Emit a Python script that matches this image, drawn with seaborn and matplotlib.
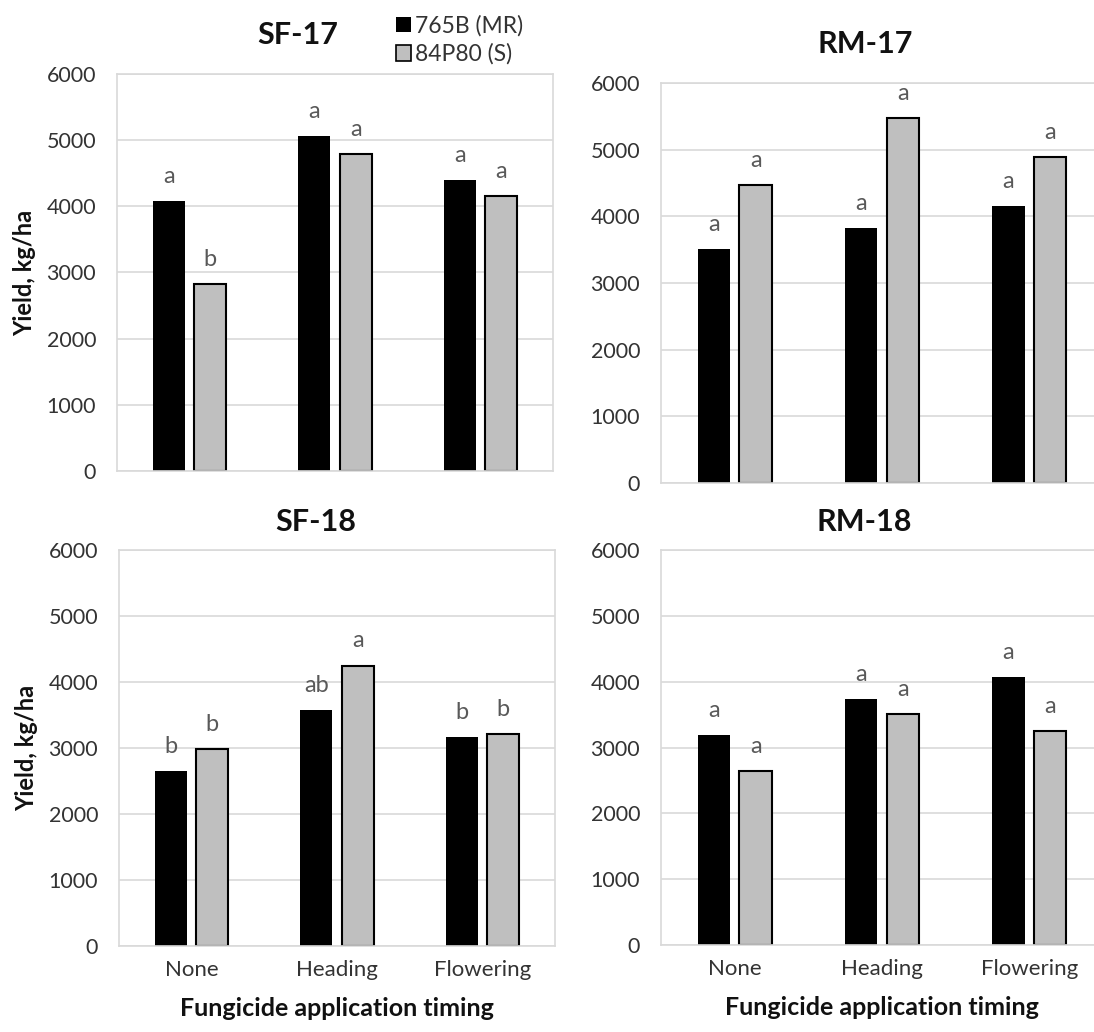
import matplotlib
matplotlib.use("Agg")
import matplotlib.pyplot as plt
import seaborn as sns
import pandas as pd
from matplotlib.patches import Patch

# Fungicide timing categories and the two cultivars
timings = ["None", "Heading", "Flowering"]
cultivars = ["765B (MR)", "84P80 (S)"]

# Grain yield (kg/ha) per site-year
sf17_mr = [4075, 5060, 4400]
sf17_s = [2825, 4785, 4160]
rm17_mr = [3505, 3825, 4150]
rm17_s = [4470, 5470, 4890]
sf18_mr = [2650, 3580, 3160]
sf18_s = [2990, 4250, 3210]
rm18_mr = [3185, 3735, 4075]
rm18_s = [2640, 3510, 3255]

# Mean separation letters
sf17_let_mr = ["a", "a", "a"]
sf17_let_s = ["b", "a", "a"]
rm17_let_mr = ["a", "a", "a"]
rm17_let_s = ["a", "a", "a"]
sf18_let_mr = ["b", "ab", "b"]
sf18_let_s = ["b", "a", "b"]
rm18_let_mr = ["a", "a", "a"]
rm18_let_s = ["a", "a", "a"]

sns.set_theme(style="white")
plt.rcParams["font.family"] = ["Lato", "DejaVu Sans"]

W, H = 1094, 1032
fig = plt.figure(figsize=(W / 100, H / 100), dpi=100)

GRID = "#D9D9D9"
BAR_COLORS = ["#000000", "#BFBFBF"]


def px_axes(left, right, top, bottom):
    return [left / W, 1 - bottom / H, (right - left) / W, (bottom - top) / H]


panels = [
    ("SF-17", sf17_mr, sf17_s, sf17_let_mr, sf17_let_s, px_axes(117, 553, 74, 471), False, 0.415, 21.5),
    ("RM-17", rm17_mr, rm17_s, rm17_let_mr, rm17_let_s, px_axes(661, 1103, 83, 483), False, 0.462, 21.5),
    ("SF-18", sf18_mr, sf18_s, sf18_let_mr, sf18_let_s, px_axes(119, 555, 550, 946), True, 0.452, 13.5),
    ("RM-18", rm18_mr, rm18_s, rm18_let_mr, rm18_let_s, px_axes(661, 1103, 550, 945), True, 0.46, 13.5),
]

for title, mr, s, let_mr, let_s, pos, bottom_row, tx, tpad in panels:
    ax = fig.add_axes(pos)
    df = pd.DataFrame({
        "timing": timings * 2,
        "cultivar": [cultivars[0]] * 3 + [cultivars[1]] * 3,
        "yield": mr + s,
    })
    sns.barplot(data=df, x="timing", y="yield", hue="cultivar",
                order=timings, hue_order=cultivars, palette=BAR_COLORS,
                width=0.57, gap=0.23, errorbar=None, edgecolor="black",
                linewidth=1.5, legend=False, ax=ax)
    for bar in ax.containers[0]:
        bar.set_linewidth(0)

    # letters above each bar
    for cont, letters in zip(ax.containers, [let_mr, let_s]):
        for bar, lt in zip(cont, letters):
            ax.annotate(lt, (bar.get_x() + bar.get_width() / 2, bar.get_height()),
                        xytext=(0, 13), textcoords="offset points",
                        ha="center", va="baseline", fontsize=17, color="#595959")

    ax.set_xlim(-0.5, 2.5)
    ax.set_ylim(0, 6000)
    ax.set_yticks(range(0, 6001, 1000))
    ax.yaxis.grid(True, color=GRID, linewidth=1.2)
    ax.xaxis.grid(False)
    ax.set_axisbelow(True)
    for sp in ax.spines.values():
        sp.set_visible(True)
        sp.set_color(GRID)
        sp.set_linewidth(1.2)
    ax.tick_params(axis="y", length=0, pad=15, labelsize=15.5, labelcolor="#333333")
    ax.tick_params(axis="x", length=0, pad=10, labelsize=16, labelcolor="#333333")

    if title.startswith("SF"):
        ax.set_ylabel("Yield, kg/ha", fontsize=17, fontweight="bold", color="#111111")
        ax.yaxis.set_label_coords(-0.185, 0.5)
    else:
        ax.set_ylabel("")

    if bottom_row:
        ax.set_xlabel("Fungicide application timing", fontsize=18,
                      fontweight="bold", color="#111111", labelpad=12)
    else:
        ax.set_xlabel("")
        ax.tick_params(axis="x", labelbottom=False)

    ax.set_title(title, fontsize=22, fontweight="bold", color="#111111",
                 x=tx, pad=tpad)

handles = [Patch(facecolor=BAR_COLORS[0], edgecolor="black", linewidth=0),
           Patch(facecolor=BAR_COLORS[1], edgecolor="black", linewidth=1.2)]
fig.legend(handles, cultivars, loc="upper left", bbox_to_anchor=(396 / W, 1 - 15 / H),
           frameon=False, fontsize=16.5, handlelength=0.65, handleheight=0.65,
           handletextpad=0.2, labelspacing=0.3, borderpad=0, borderaxespad=0,
           labelcolor="#333333")

fig.savefig("out.png", dpi=100)
